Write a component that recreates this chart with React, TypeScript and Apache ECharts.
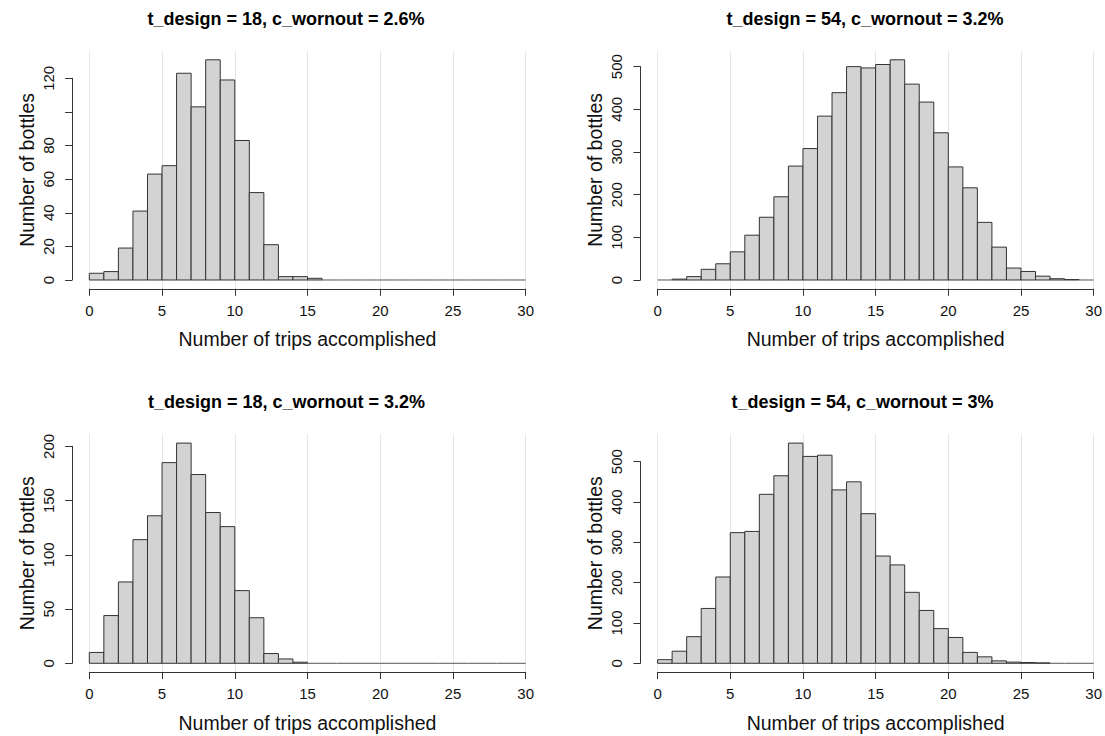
import React, { useEffect, useRef } from "react";
import * as echarts from "echarts";

// ---- data ----
const binEdges = [0, 1, 2, 3, 4, 5, 6, 7, 8, 9, 10, 11, 12, 13, 14, 15, 16, 17, 18, 19, 20, 21, 22, 23, 24, 25, 26, 27, 28, 29, 30];

const titles = [
  "t_design = 18, c_wornout = 2.6%",
  "t_design = 54, c_wornout = 3.2%",
  "t_design = 18, c_wornout = 3.2%",
  "t_design = 54, c_wornout = 3%",
];

const counts18_26 = [4, 5, 19, 41, 63, 68, 123, 103, 131, 119, 83, 52, 21, 2, 2, 1, 0, 0, 0, 0, 0, 0, 0, 0, 0, 0, 0, 0, 0, 0];
const counts54_32 = [0, 2, 8, 25, 38, 66, 105, 147, 195, 267, 308, 384, 439, 500, 497, 505, 516, 459, 417, 345, 265, 216, 135, 77, 28, 20, 9, 3, 1, 0];
const counts18_32 = [10, 44, 75, 114, 136, 185, 203, 174, 139, 126, 67, 42, 9, 4, 1, 0, 0, 0, 0, 0, 0, 0, 0, 0, 0, 0, 0, 0, 0, 0];
const counts54_30 = [9, 30, 66, 136, 214, 324, 327, 419, 465, 546, 513, 516, 430, 450, 371, 266, 244, 176, 131, 86, 64, 27, 16, 6, 3, 2, 1, 0, 0, 0];

const xTickValues = [0, 5, 10, 15, 20, 25, 30];

const yTicks18_26 = [0, 20, 40, 60, 80, 100, 120];
const yLabels18_26 = ["0", "20", "40", "60", "80", "", "120"];
const yTicks54_32 = [0, 100, 200, 300, 400, 500];
const yLabels54_32 = ["0", "100", "200", "300", "400", "500"];
const yTicks18_32 = [0, 50, 100, 150, 200];
const yLabels18_32 = ["0", "50", "100", "150", "200"];
const yTicks54_30 = [0, 100, 200, 300, 400, 500];
const yLabels54_30 = ["0", "100", "200", "300", "400", "500"];

const xLabel = "Number of trips accomplished";
const yLabel = "Number of bottles";

// ---- layout ----
const FONT = "'Liberation Sans', Arial, Helvetica, sans-serif";
const PLOT_W = 436.4;
const PLOT_H = 237.8;
const AXIS_SHIFT = 17.2;

const panels = [
  { title: titles[0], counts: counts18_26, yTicks: yTicks18_26, yLabels: yLabels18_26, left: 89.3, top: 51.0, titleX: 286 },
  { title: titles[1], counts: counts54_32, yTicks: yTicks54_32, yLabels: yLabels54_32, left: 657.6, top: 51.0, titleX: 865 },
  { title: titles[2], counts: counts18_32, yTicks: yTicks18_32, yLabels: yLabels18_32, left: 89.3, top: 434.3, titleX: 286.5 },
  { title: titles[3], counts: counts54_30, yTicks: yTicks54_30, yLabels: yLabels54_30, left: 657.6, top: 434.3, titleX: 862.5 },
];

function buildOption() {
  const grid: any[] = [];
  const xAxis: any[] = [];
  const yAxis: any[] = [];
  const series: any[] = [];
  const graphic: any[] = [];

  panels.forEach((p, i) => {
    const maxC = Math.max(...p.counts);
    const yLo = -0.04 * maxC;
    const yHi = 1.04 * maxC;
    const scale = PLOT_H / (yHi - yLo);
    const baseline = p.top + PLOT_H - (0 - yLo) * scale;
    const lastTick = p.yTicks[p.yTicks.length - 1];
    const step = p.yTicks[1] - p.yTicks[0];

    grid.push({ left: p.left, top: p.top, width: PLOT_W, height: PLOT_H, containLabel: false });
    grid.push({
      left: p.left - AXIS_SHIFT,
      top: baseline - lastTick * scale,
      width: 10,
      height: lastTick * scale,
      containLabel: false,
    });

    xAxis.push({
      gridIndex: 2 * i,
      type: "value",
      min: 0,
      max: 30,
      interval: 5,
      axisLine: { show: true, onZero: false, lineStyle: { color: "#333", width: 1 } },
      axisTick: { show: true, length: 7, lineStyle: { color: "#333", width: 1 } },
      axisLabel: {
        show: true,
        margin: 14,
        fontSize: 15,
        fontFamily: FONT,
        color: "#111",
        formatter: (v: number) => (xTickValues.indexOf(v) >= 0 ? String(v) : ""),
      },
      splitLine: { show: true, lineStyle: { color: "#e6e6e6", width: 1 } },
      name: xLabel,
      nameLocation: "middle",
      nameGap: 40.5,
      nameTextStyle: { fontSize: 19.5, fontFamily: FONT, color: "#111" },
    });
    xAxis.push({ gridIndex: 2 * i + 1, type: "value", min: 0, max: 1, show: false });

    yAxis.push({
      gridIndex: 2 * i,
      type: "value",
      min: yLo,
      max: yHi,
      axisLine: { show: false },
      axisTick: { show: false },
      axisLabel: { show: false },
      splitLine: { show: false },
      name: yLabel,
      nameLocation: "middle",
      nameRotate: 90,
      nameGap: 52.5,
      nameTextStyle: { fontSize: 19.5, fontFamily: FONT, color: "#111" },
    });
    yAxis.push({
      gridIndex: 2 * i + 1,
      type: "value",
      min: 0,
      max: lastTick,
      interval: step,
      axisLine: { show: true, lineStyle: { color: "#333", width: 1 } },
      axisTick: { show: true, length: 7, lineStyle: { color: "#333", width: 1 } },
      axisLabel: {
        show: true,
        rotate: 90,
        margin: 16,
        fontSize: 15,
        fontFamily: FONT,
        color: "#111",
        formatter: (v: number) => {
          const k = p.yTicks.indexOf(v);
          return k >= 0 ? p.yLabels[k] : "";
        },
      },
      splitLine: { show: false },
    });

    const data = p.counts.map((c, k) => [binEdges[k], binEdges[k + 1], c]);
    series.push({
      type: "custom",
      xAxisIndex: 2 * i,
      yAxisIndex: 2 * i,
      data,
      encode: { x: [0, 1], y: 2 },
      silent: true,
      renderItem: (params: any, api: any) => {
        const x0 = api.value(0);
        const x1 = api.value(1);
        const c = api.value(2);
        const pTop = api.coord([x0, c]);
        const pBot = api.coord([x1, 0]);
        if (c === 0) {
          return {
            type: "line",
            shape: { x1: pTop[0], y1: pBot[1], x2: pBot[0], y2: pBot[1] },
            style: { stroke: "#555", lineWidth: 1 },
          };
        }
        return {
          type: "rect",
          shape: { x: pTop[0], y: pTop[1], width: pBot[0] - pTop[0], height: pBot[1] - pTop[1] },
          style: { fill: "#D3D3D3", stroke: "#333", lineWidth: 1 },
        };
      },
    });

    graphic.push({
      type: "text",
      x: p.titleX,
      y: p.top - 32,
      style: {
        text: p.title,
        textAlign: "center",
        textVerticalAlign: "middle",
        font: `bold 18px ${FONT}`,
        fill: "#000",
      },
    });
  });

  return {
    animation: false,
    backgroundColor: "#ffffff",
    grid,
    xAxis,
    yAxis,
    series,
    graphic,
  };
}

export default function App() {
  const ref = useRef<HTMLDivElement>(null);
  useEffect(() => {
    if (!ref.current) return;
    const chart = echarts.init(ref.current, undefined, { renderer: "svg" });
    chart.setOption(buildOption() as any);
    return () => chart.dispose();
  }, []);
  return (
    <div
      ref={ref}
      style={{ position: "fixed", left: 0, top: 0, width: 1105, height: 736, background: "#fff" }}
    />
  );
}
